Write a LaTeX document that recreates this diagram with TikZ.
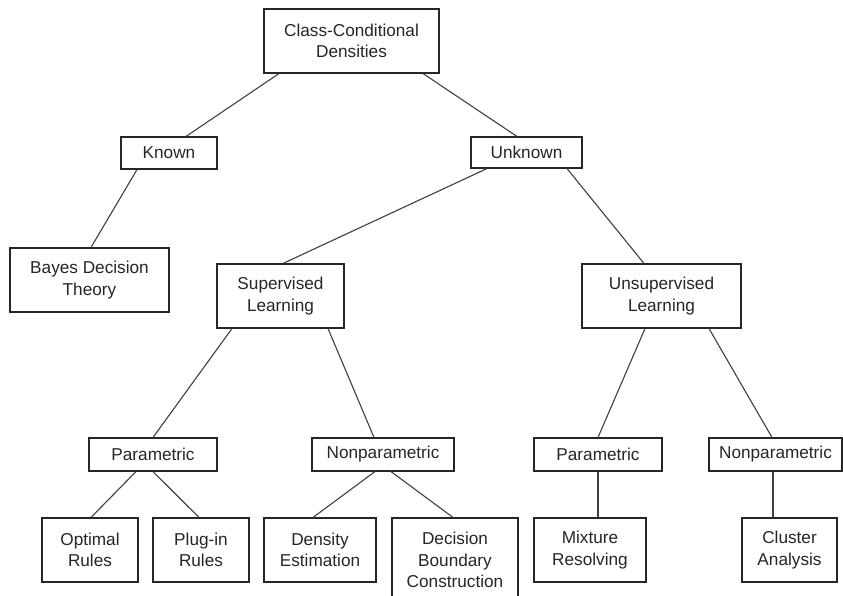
\documentclass[tikz,border=0pt]{standalone}
\usepackage{fontspec}
\setmainfont{Liberation Sans}
\begin{document}
\begin{tikzpicture}[x=1pt,y=-1pt,
  box/.style={draw=black!85,line width=1.1pt,fill=white,inner sep=0pt,align=center,
    font=\fontsize{17.2}{21.5}\selectfont,text=black!85},
  link/.style={draw=black!75,line width=1.1pt}]
\clip (0,0) rectangle (843,596);
\fill[white] (0,0) rectangle (843,596);
% nodes
\node[box,minimum width=175,minimum height=64] (cc) at (351.5,41) {Class-Conditional\\Densities};
\node[box,minimum width=96,minimum height=32] (known) at (169,153) {Known};
\node[box,minimum width=111,minimum height=31] (unknown) at (526.5,152.5) {Unknown};
\node[box,minimum width=159,minimum height=64] (bayes) at (89.5,280) {Bayes Decision\\Theory};
\node[box,minimum width=127,minimum height=64] (sup) at (280.5,296) {Supervised\\Learning};
\node[box,minimum width=159,minimum height=64] (unsup) at (661.5,296) {Unsupervised\\Learning};
\node[box,minimum width=128,minimum height=33] (par1) at (153,454.5) {Parametric};
\node[box,minimum width=142,minimum height=33] (np1) at (383,454.5) {Nonparametric};
\node[box,minimum width=128,minimum height=33] (par2) at (598,454.5) {Parametric};
\node[box,minimum width=133,minimum height=33] (np2) at (775.5,454.5) {Nonparametric};
\node[box,minimum width=96,minimum height=64] (opt) at (90,550) {Optimal\\Rules};
\node[box,minimum width=96,minimum height=64] (plug) at (201,550) {Plug-in\\Rules};
\node[box,minimum width=112,minimum height=64] (dens) at (320,550) {Density\\Estimation};
\node[box,minimum width=126,minimum height=84] (dec) at (455,560) {Decision\\Boundary\\Construction};
\node[box,minimum width=112,minimum height=64] (mix) at (590,550) {Mixture\\Resolving};
\node[box,minimum width=95,minimum height=64] (clu) at (789.5,550) {Cluster\\Analysis};
% connectors
\draw[link] ([xshift=-72.5]cc.south) -- ([xshift=17]known.north);
\draw[link] ([xshift=71.5]cc.south) -- ([xshift=-9.5]unknown.north);
\draw[link] ([xshift=-32]known.south) -- ([xshift=1.5]bayes.north);
\draw[link] ([xshift=-39.5]unknown.south) -- ([xshift=2.5]sup.north);
\draw[link] ([xshift=40.5]unknown.south) -- ([xshift=-17.5]unsup.north);
\draw[link] ([xshift=-48.5]sup.south) -- (par1.north);
\draw[link] ([xshift=47.5]sup.south) -- ([xshift=-9]np1.north);
\draw[link] ([xshift=-17]par1.south) -- ([xshift=1]opt.north);
\draw[link] (par1.south) -- ([xshift=-2]plug.north);
\draw[link] ([xshift=-8]np1.south) -- ([xshift=-7]dens.north);
\draw[link] ([xshift=8]np1.south) -- ([xshift=-2]dec.north);
\draw[link] ([xshift=-16.5]unsup.south) -- (par2.north);
\draw[link] ([xshift=47.5]unsup.south) -- ([xshift=-3.5]np2.north);
\draw[link] (par2.south) -- ([xshift=8]mix.north);
\draw[link] ([xshift=-2.5]np2.south) -- ([xshift=-16.5]clu.north);
\end{tikzpicture}
\end{document}
